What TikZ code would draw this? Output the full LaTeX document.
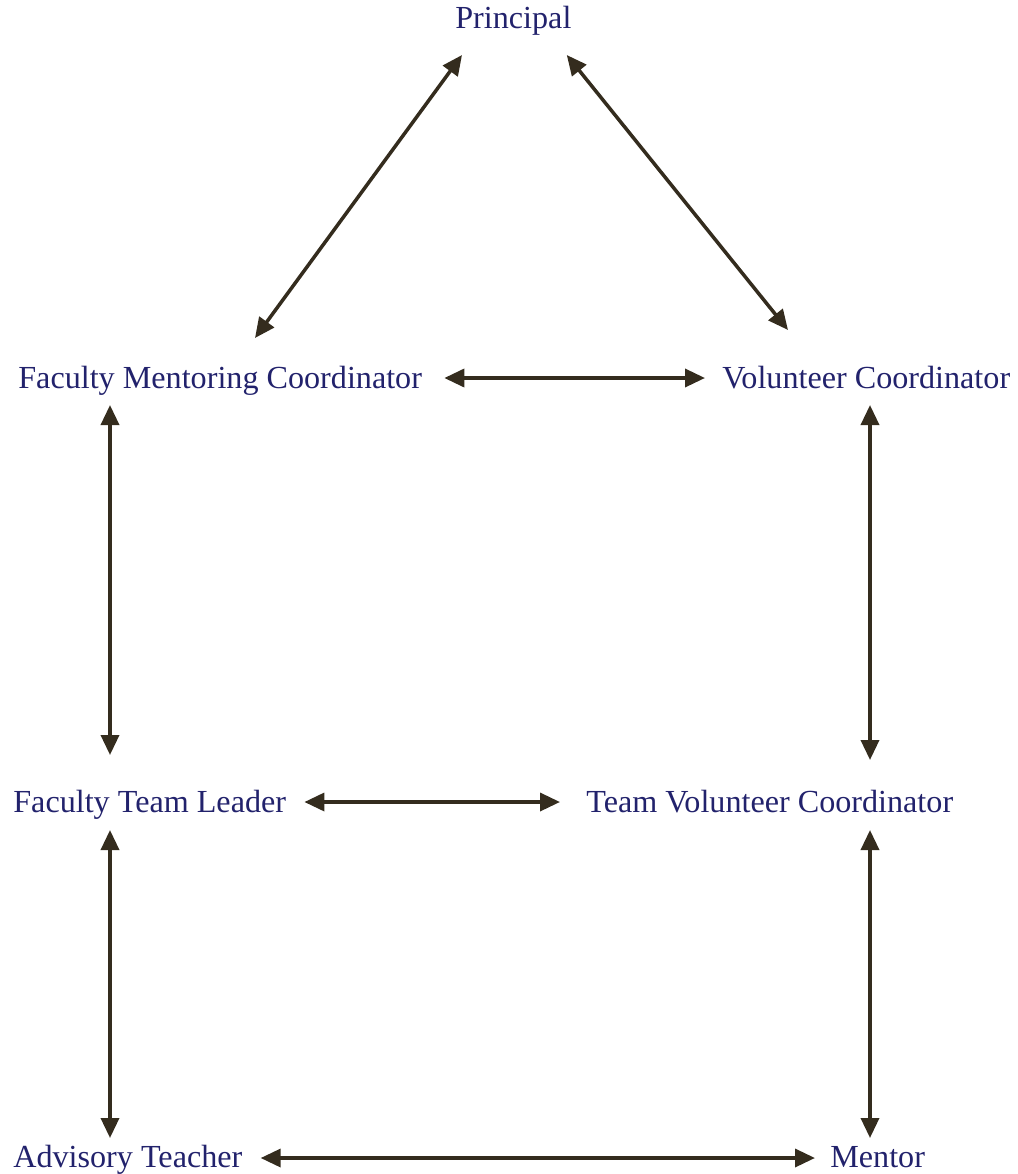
\documentclass[tikz,border=0pt]{standalone}
\usepackage{fontspec}
\setmainfont{Liberation Serif}
\usepackage{tikz}
\usetikzlibrary{arrows.meta, calc, positioning}
\definecolor{navy}{RGB}{34,34,108}
\definecolor{umber}{RGB}{52,44,30}

\tikzset{
	role/.style = {navy, inner sep=0pt, anchor=base west, font=\fontsize{18.3}{22}\selectfont},
	link/.style = {arrows = {Triangle[length=0.4cm,width=0.36cm]-Triangle[length=0.4cm,width=0.36cm]}, umber, line width=2pt}
}

\begin{document}
\begin{tikzpicture}[x=0.02cm,y=-0.02cm]
		\useasboundingbox (0,0) rectangle (1018,1174);
		
		\node(principal) [role] at (455,28) {Principal};
		
		\node(fmc) [role] at (18,388) {Faculty Mentoring Coordinator};
		\node(vc) [role] at (722,388) {Volunteer Coordinator};
		
		\node(ftl) [role] at (13,812) {Faculty Team Leader};
		\node(tvc) [role] at (586,812) {Team Volunteer Coordinator};
		
		\node(at) [role] at (13,1167) {Advisory Teacher};
		\node(mentor) [role] at (830,1167) {Mentor};
		
		%----------------------------------------------------------------
		\draw [link] ($(principal.base west)+(7,27)$) -- ($(fmc.base west)+(237,-50)$);
		\draw [link] ($(principal.base east)+(-5,27)$) -- ($(vc.base west)+(66,-58)$);
		\draw [link] ($(fmc.base east)+(22,-10)$) -- ($(vc.base west)+(-17,-10)$);
		
		%----------------------------------------------------------------
		\draw [link] ($(fmc.base west)+(92,17)$) -- ($(ftl.base west)+(97,-57)$);
		\draw [link] ($(vc.base west)+(148,17)$) -- ($(tvc.base west)+(284,-52)$);
		\draw [link] ($(ftl.base east)+(18,-10)$) -- ($(tvc.base west)+(-26,-10)$);
		
		%----------------------------------------------------------------
		\draw [link] ($(ftl.base west)+(97,18)$) -- ($(at.base west)+(97,-29)$);
		\draw [link] ($(tvc.base west)+(284,18)$) -- ($(mentor.base west)+(40,-29)$);
		\draw [link] ($(at.base east)+(18,-9)$) -- ($(mentor.base west)+(-15,-9)$);
		
	\end{tikzpicture}
\end{document}
